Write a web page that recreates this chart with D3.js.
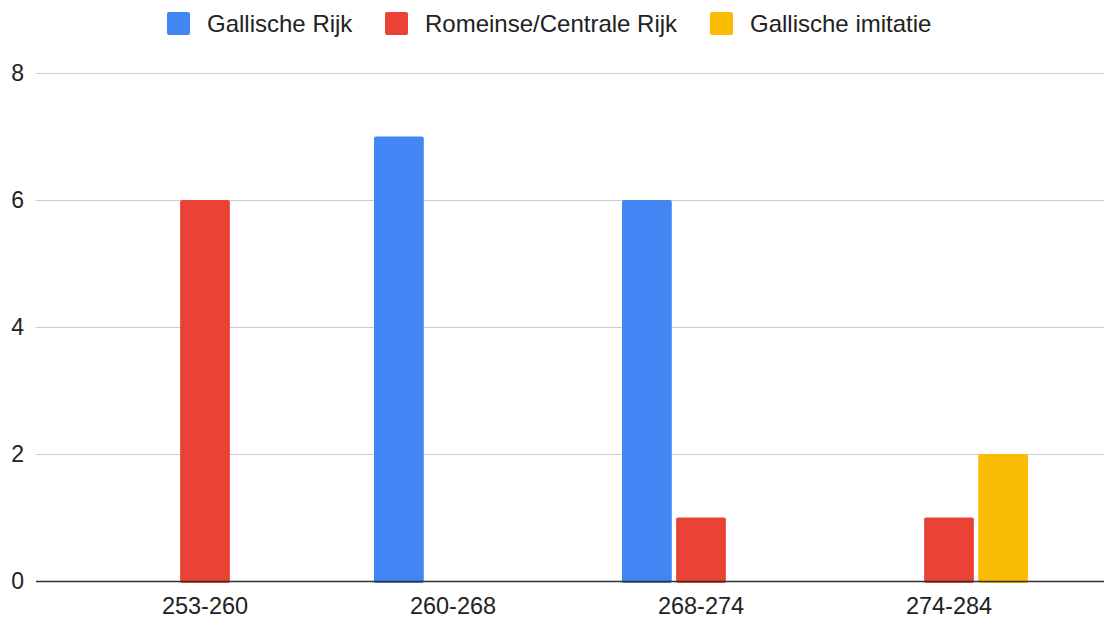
<!DOCTYPE html>
<html>
<head>
<meta charset="utf-8">
<script src="https://cdn.jsdelivr.net/npm/d3@7.9.0/dist/d3.min.js"></script>
<style>
  html, body { margin: 0; padding: 0; background: #fff; }
  svg { display: block; font-family: "Liberation Sans", Arial, sans-serif; }
</style>
</head>
<body>
<svg id="chart" width="1105" height="619"></svg>
<script>
// data
const periods = ['253-260', '260-268', '268-274', '274-284'];
const seriesNames = ['Gallische Rijk', 'Romeinse/Centrale Rijk', 'Gallische imitatie'];
const gallischeRijk = [0, 7, 6, 0];
const romeinseRijk = [6, 0, 1, 1];
const gallischeImitatie = [0, 0, 0, 2];
const yTicks = [0, 2, 4, 6, 8];
const colors = ['#4285F4', '#EA4335', '#FBBC04'];

const svg = d3.select('#chart');
const allSeries = [gallischeRijk, romeinseRijk, gallischeImitatie];

const x0 = d3.scaleBand().domain(periods).range([81, 1073]);
const x1 = d3.scaleBand().domain(d3.range(3)).range([-79, 79]).paddingInner(0.08);
const y = d3.scaleLinear().domain([0, 8]).range([581, 73]);

// gridlines
svg.append('g')
  .selectAll('line')
  .data(yTicks.filter(d => d !== 0))
  .join('line')
  .attr('x1', 36).attr('x2', 1104)
  .attr('y1', d => y(d) + 0.5).attr('y2', d => y(d) + 0.5)
  .attr('stroke', '#cccccc').attr('stroke-width', 1);

// y labels
svg.append('g')
  .selectAll('text')
  .data(yTicks)
  .join('text')
  .attr('x', 24)
  .attr('y', d => y(d))
  .attr('dy', '0.35em')
  .attr('text-anchor', 'end')
  .attr('font-size', 23)
  .attr('fill', '#222')
  .text(d => d);

// bars
const groups = svg.append('g')
  .selectAll('g')
  .data(periods)
  .join('g')
  .attr('transform', d => `translate(${x0(d) + x0.bandwidth() / 2},0)`);

groups.selectAll('rect')
  .data((p, i) => allSeries.map((s, k) => ({ k, v: s[i] })))
  .join('rect')
  .filter(d => d.v > 0)
  .attr('x', d => x1(d.k))
  .attr('width', x1.bandwidth())
  .attr('y', d => y(d.v))
  .attr('height', d => y(0) - y(d.v) + 2)
  .attr('rx', 2)
  .attr('fill', d => colors[d.k]);

// baseline
svg.append('line')
  .attr('x1', 36).attr('x2', 1104)
  .attr('y1', y(0) + 0.5).attr('y2', y(0) + 0.5)
  .attr('stroke', '#333').attr('stroke-width', 1.5);

// x labels
svg.append('g')
  .selectAll('text')
  .data(periods)
  .join('text')
  .attr('x', d => x0(d) + x0.bandwidth() / 2)
  .attr('y', 606)
  .attr('dy', '0.35em')
  .attr('text-anchor', 'middle')
  .attr('font-size', 23.5)
  .attr('fill', '#222')
  .text(d => d);

// legend
const legendX = [167, 385, 710];
const legend = svg.append('g')
  .selectAll('g')
  .data(seriesNames)
  .join('g')
  .attr('transform', (d, i) => `translate(${legendX[i]},12)`);

legend.append('rect')
  .attr('width', 23).attr('height', 23).attr('rx', 2)
  .attr('fill', (d, i) => colors[i]);

legend.append('text')
  .attr('x', 40).attr('y', 11.5)
  .attr('dy', '0.35em')
  .attr('font-size', 24)
  .attr('fill', '#222')
  .text(d => d);
</script>
</body>
</html>
